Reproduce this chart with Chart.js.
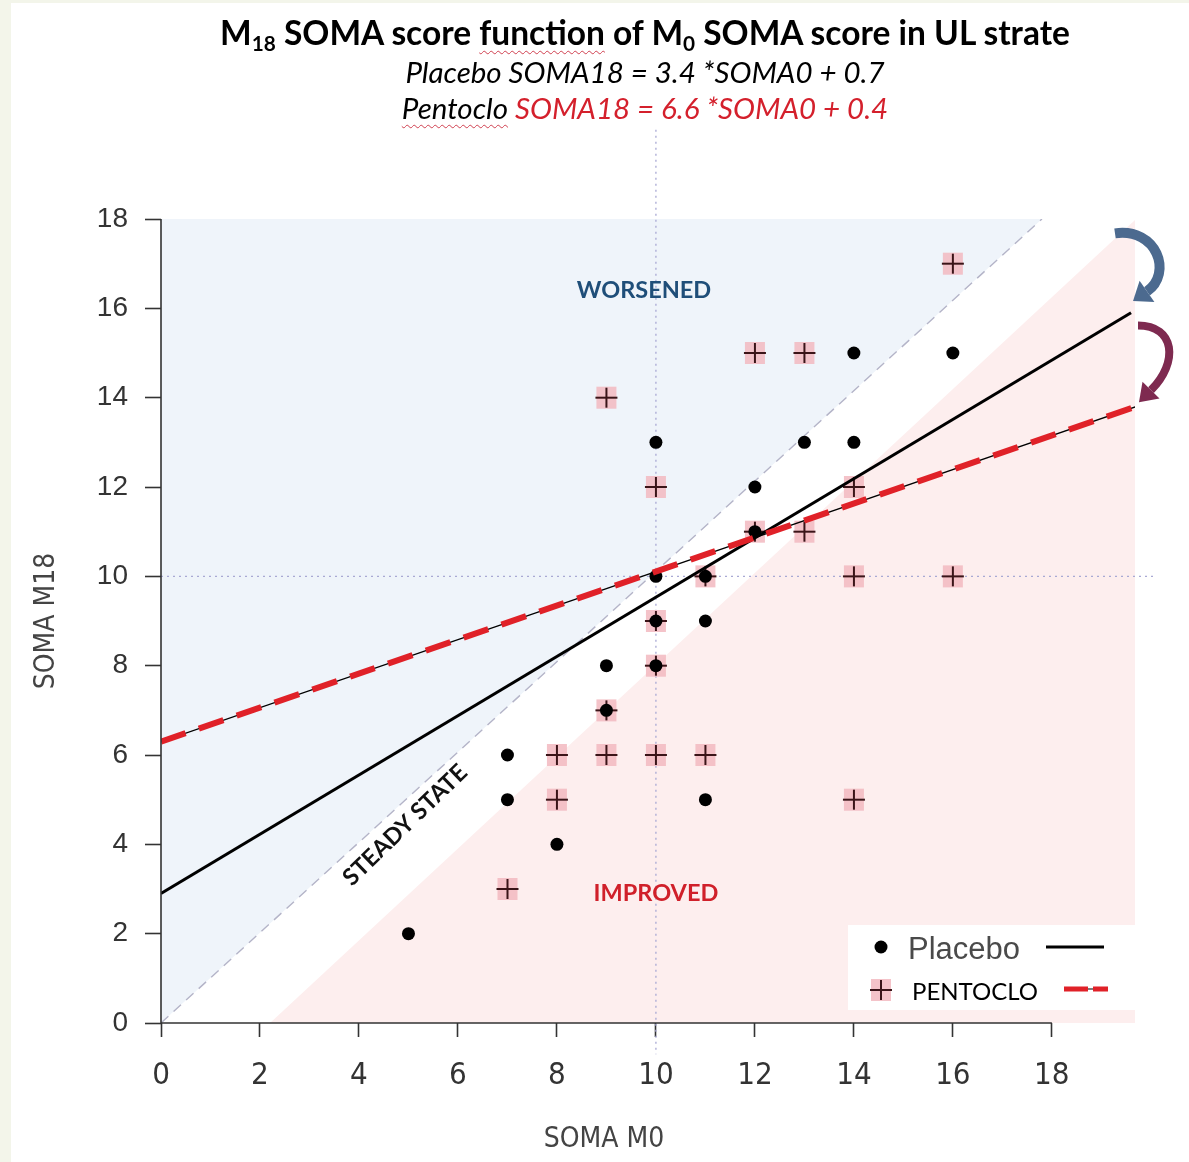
<!DOCTYPE html>
<html>
<head>
<meta charset="utf-8">
<script src="https://cdn.jsdelivr.net/npm/chart.js@4.4.1/dist/chart.umd.min.js"></script>
<style>
html, body { margin: 0; padding: 0; background: #fff; }
#wrap { position: relative; width: 1189px; height: 1162px; overflow: hidden; background: #fff; }
#lstrip { position: absolute; left: 0; top: 0; width: 11px; height: 1162px; background: #f3f5ea; }
#tstrip { position: absolute; left: 0; top: 0; width: 1189px; height: 3px; background: #f3f5ea; }
canvas { position: absolute; left: 0; top: 0; }
.tl { position: absolute; left: 0; width: 1290px; text-align: center; white-space: nowrap; font-family: Lato, "Open Sans", sans-serif; color: #000; }
#t1 { top: 11px; font-size: 33.5px; line-height: 42px; font-weight: bold; }
#t1 sub { font-size: 0.62em; vertical-align: -0.3em; line-height: 0; }
#t2 { top: 54px; font-size: 29.5px; line-height: 36px; font-style: italic; }
#t3 { top: 90px; font-size: 29.5px; line-height: 36px; font-style: italic; }
.sp { text-decoration: underline wavy #d04050; text-decoration-thickness: 1px; text-underline-offset: 5px; }
.red { color: #d4202c; }
</style>
</head>
<body>
<div id="wrap">
  <div id="lstrip"></div>
  <div id="tstrip"></div>
  <canvas id="chart" width="1189" height="1162"></canvas>
  <div class="tl" id="t1">M<sub>18</sub> SOMA score <span class="sp">function</span> of M<sub>0</sub> SOMA score in UL strate</div>
  <div class="tl" id="t2">Placebo SOMA18 = 3.4 *SOMA0 + 0.7</div>
  <div class="tl" id="t3"><span class="sp">Pentoclo</span> <span class="red">SOMA18 = 6.6 *SOMA0 + 0.4</span></div>
</div>
<script>
// tick values
var xTicks = [0, 2, 4, 6, 8, 10, 12, 14, 16, 18];
var yTicks = [0, 2, 4, 6, 8, 10, 12, 14, 16, 18];

// placebo patients (M0 score, M18 score)
var placeboM0  = [5, 7, 7, 8, 9, 9, 10, 10, 10, 10, 11, 11, 11, 12, 12, 13, 14, 14, 16];
var placeboM18 = [2, 6, 5, 4, 8, 7, 13, 10, 9, 8, 10, 9, 5, 12, 11, 13, 15, 13, 15];

// pentoclo patients
var pentocloM0  = [7, 8, 8, 9, 9, 9, 10, 10, 10, 10, 11, 11, 12, 12, 13, 13, 14, 14, 14, 16, 16];
var pentocloM18 = [3, 6, 5, 14, 7, 6, 12, 9, 8, 6, 10, 6, 15, 11, 15, 11, 12, 10, 5, 17, 10];

// regression lines (end points)
var placeboFitM0  = [0, 19.6];
var placeboFitM18 = [2.9, 15.9];
var pentocloFitM0  = [0, 19.7];
var pentocloFitM18 = [6.3, 13.8];

// zones
var steadyM0  = [0, 17.8];
var steadyM18 = [0, 18];
var improvedM0  = [2.2, 19.7];
var improvedM18 = [0, 18];

function pts(xs, ys) {
  return xs.map(function (x, i) { return { x: x, y: ys[i] }; });
}

// pentoclo marker : pink square with a cross
function crossMark() {
  var c = document.createElement('canvas');
  c.width = 24; c.height = 24;
  var g = c.getContext('2d');
  g.fillStyle = 'rgba(242,184,192,0.85)';
  g.fillRect(2, 1, 20, 22);
  g.strokeStyle = '#3a1418';
  g.lineWidth = 2;
  g.beginPath();
  g.moveTo(12, 2); g.lineTo(12, 22);
  g.moveTo(1, 12); g.lineTo(23, 12);
  g.stroke();
  return c;
}
var crossImg = crossMark();

var narrow = "'Liberation Sans Narrow', 'DejaVu Sans Condensed', 'Liberation Sans', Arial, sans-serif";
var arial = "'Liberation Sans', Arial, sans-serif";

var decor = {
  id: 'decor',
  afterDatasetDraw: function (chart, args) {
    if (args.meta.label !== 'improved') return;
    var ctx = chart.ctx, x = chart.scales.x, y = chart.scales.y;
    ctx.save();
    ctx.strokeStyle = '#a9a9d4';
    ctx.lineWidth = 1.3;
    ctx.setLineDash([2, 4]);
    ctx.beginPath();
    ctx.moveTo(x.getPixelForValue(10), y.getPixelForValue(20));
    ctx.lineTo(x.getPixelForValue(10), y.getPixelForValue(-0.7));
    ctx.moveTo(x.getPixelForValue(0), y.getPixelForValue(10));
    ctx.lineTo(x.getPixelForValue(20.1), y.getPixelForValue(10));
    ctx.stroke();
    ctx.restore();
  },
  afterDatasetsDraw: function (chart) {
    var ctx = chart.ctx, x = chart.scales.x, y = chart.scales.y;
    ctx.save();
    ctx.textAlign = 'center';
    ctx.textBaseline = 'middle';
    ctx.font = 'bold 23.5px Lato, sans-serif';
    ctx.fillStyle = '#1f4e79';
    ctx.fillText('WORSENED', x.getPixelForValue(9.76), y.getPixelForValue(16.4));
    ctx.fillStyle = '#d0202a';
    ctx.fillText('IMPROVED', x.getPixelForValue(10), y.getPixelForValue(2.9));
    ctx.translate(x.getPixelForValue(4.93), y.getPixelForValue(4.43));
    ctx.rotate(-44 * Math.PI / 180);
    ctx.font = 'bold 23.5px Lato, sans-serif';
    ctx.fillStyle = '#111';
    ctx.fillText('STEADY STATE', 0, 0);
    ctx.restore();
  },
  afterDraw: function (chart) {
    var ctx = chart.ctx, x = chart.scales.x, y = chart.scales.y, a = chart.chartArea;
    ctx.save();
    // R style axes, drawn from 0 to 18
    ctx.strokeStyle = '#333';
    ctx.lineWidth = 1.6;
    ctx.beginPath();
    ctx.moveTo(a.left, y.getPixelForValue(0));
    ctx.lineTo(a.left, y.getPixelForValue(18));
    ctx.moveTo(x.getPixelForValue(0), a.bottom);
    ctx.lineTo(x.getPixelForValue(18), a.bottom);
    ctx.stroke();

    // x axis title
    ctx.font = '28px ' + narrow;
    ctx.fillStyle = '#444';
    ctx.textAlign = 'center';
    ctx.textBaseline = 'middle';
    ctx.fillText('SOMA M0', x.getPixelForValue(8.95), a.bottom + 117);

    // legend box
    var lx = a.right - 287, ly = a.bottom - 98;
    ctx.fillStyle = '#fff';
    ctx.fillRect(lx, ly, 287, 85);
    ctx.fillStyle = '#000';
    ctx.beginPath();
    ctx.arc(lx + 33, ly + 22, 6.5, 0, Math.PI * 2);
    ctx.fill();
    ctx.drawImage(crossImg, lx + 21, ly + 53);
    ctx.textBaseline = 'middle';
    ctx.textAlign = 'left';
    ctx.font = '31px ' + arial;
    ctx.fillStyle = '#4a4a4a';
    ctx.fillText('Placebo', lx + 60, ly + 25);
    ctx.font = '24px Lato, sans-serif';
    ctx.fillStyle = '#000';
    ctx.fillText('PENTOCLO', lx + 64, ly + 67);
    ctx.strokeStyle = '#000';
    ctx.lineWidth = 3;
    ctx.beginPath();
    ctx.moveTo(lx + 198, ly + 22); ctx.lineTo(lx + 256, ly + 22);
    ctx.stroke();
    ctx.lineWidth = 1.2;
    ctx.beginPath();
    ctx.moveTo(lx + 216, ly + 64); ctx.lineTo(lx + 260, ly + 64);
    ctx.stroke();
    ctx.strokeStyle = '#e02128';
    ctx.lineWidth = 5;
    ctx.beginPath();
    ctx.moveTo(lx + 216, ly + 64); ctx.lineTo(lx + 240, ly + 64);
    ctx.moveTo(lx + 245, ly + 64); ctx.lineTo(lx + 260, ly + 64);
    ctx.stroke();

    // curved arrows pointing at the ends of the fitted lines
    function arrow(x0, y0, c1x, c1y, c2x, c2y, ex, ey, col, w, hw) {
      ctx.strokeStyle = col;
      ctx.fillStyle = col;
      ctx.lineWidth = w;
      ctx.lineCap = 'butt';
      ctx.setLineDash([]);
      ctx.beginPath();
      ctx.moveTo(x0, y0);
      ctx.bezierCurveTo(c1x, c1y, c2x, c2y, ex, ey);
      ctx.stroke();
      var dx = ex - c2x, dy = ey - c2y, l = Math.sqrt(dx * dx + dy * dy);
      dx /= l; dy /= l;
      ctx.beginPath();
      ctx.moveTo(ex + dx * 17, ey + dy * 17);
      ctx.lineTo(ex - dy * hw, ey + dx * hw);
      ctx.lineTo(ex + dy * hw, ey - dx * hw);
      ctx.closePath();
      ctx.fill();
    }
    var r = a.right;
    var b1 = y.getPixelForValue(16.2), b2 = y.getPixelForValue(13.9);
    arrow(r - 20, b1 - 66, r + 22, b1 - 72, r + 38, b1 - 26, r + 12, b1 - 8, '#4c6a8f', 10, 13);
    arrow(r + 3, b1 + 26, r + 40, b1 + 26, r + 44, b2 - 40, r + 16, b2 - 12, '#7e2a50', 8, 12);
    ctx.restore();
  }
};

new Chart(document.getElementById('chart'), {
  type: 'line',
  data: {
    datasets: [
      {
        label: 'worsened',
        data: pts(steadyM0, steadyM18),
        borderColor: 'transparent',
        backgroundColor: '#eff4fa',
        pointRadius: 0,
        fill: 'end',
        order: 20
      },
      {
        label: 'improved',
        data: pts(improvedM0, improvedM18),
        borderColor: 'transparent',
        backgroundColor: '#fdeeee',
        pointRadius: 0,
        fill: 'start',
        order: 19
      },
      {
        label: 'steady',
        data: pts(steadyM0, steadyM18),
        borderColor: '#b4b4c8',
        borderWidth: 1.4,
        borderDash: [10, 7],
        pointRadius: 0,
        fill: false,
        order: 18
      },
      {
        label: 'PENTOCLO',
        data: pts(pentocloM0, pentocloM18),
        showLine: false,
        pointStyle: crossImg,
        pointRadius: 12,
        order: 10
      },
      {
        label: 'Placebo',
        data: pts(placeboM0, placeboM18),
        showLine: false,
        pointStyle: 'circle',
        pointRadius: 6.5,
        backgroundColor: '#000',
        borderColor: '#000',
        borderWidth: 0,
        order: 9
      },
      {
        label: 'Placebo fit',
        data: pts(placeboFitM0, placeboFitM18),
        borderColor: '#000',
        borderWidth: 3,
        pointRadius: 0,
        fill: false,
        order: 3
      },
      {
        label: 'PENTOCLO fit thin',
        data: pts(pentocloFitM0, pentocloFitM18),
        borderColor: '#000',
        borderWidth: 1.3,
        pointRadius: 0,
        fill: false,
        order: 2
      },
      {
        label: 'PENTOCLO fit',
        data: pts(pentocloFitM0, pentocloFitM18),
        borderColor: '#e02128',
        borderWidth: 6,
        borderDash: [26, 14],
        pointRadius: 0,
        fill: false,
        order: 1
      }
    ]
  },
  options: {
    responsive: false,
    animation: false,
    layout: { padding: { left: 0, top: 219, right: 54, bottom: 0 } },
    plugins: {
      legend: { display: false },
      tooltip: { enabled: false }
    },
    scales: {
      x: {
        type: 'linear',
        min: 0,
        max: 19.68,
        afterBuildTicks: function (s) { s.ticks = xTicks.map(function (v) { return { value: v }; }); },
        afterFit: function (s) { s.height = 139; },
        ticks: {
          font: { family: narrow, size: 31 },
          color: '#333',
          padding: 20,
          maxRotation: 0,
          autoSkip: false
        },
        grid: { drawOnChartArea: false, drawTicks: true, tickLength: 14, tickColor: '#333', tickWidth: 1.6 },
        border: { display: false },
        title: { display: false }
      },
      y: {
        type: 'linear',
        min: 0,
        max: 18,
        afterBuildTicks: function (s) { s.ticks = yTicks.map(function (v) { return { value: v }; }); },
        afterFit: function (s) { s.width = 161; },
        ticks: {
          font: { family: arial, size: 28 },
          color: '#333',
          padding: 17
        },
        grid: { drawOnChartArea: false, drawTicks: true, tickLength: 16, tickColor: '#333', tickWidth: 1.6 },
        border: { display: false },
        title: {
          display: true,
          text: 'SOMA M18',
          font: { family: narrow, size: 28 },
          color: '#444',
          padding: { top: 30, bottom: 0 }
        }
      }
    }
  },
  plugins: [decor]
});
</script>
</body>
</html>
